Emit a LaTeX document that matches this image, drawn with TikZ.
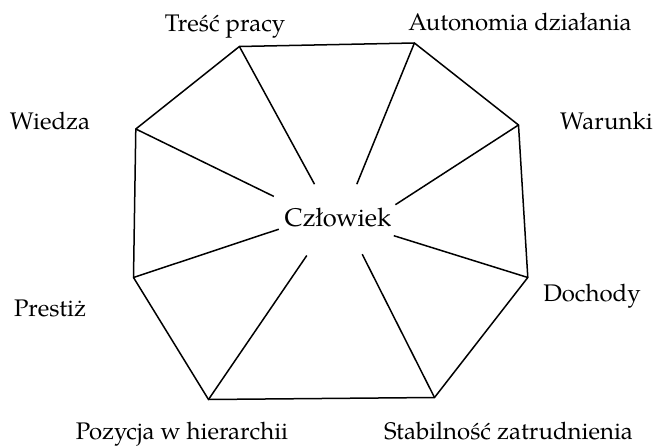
\documentclass[tikz,border=0pt]{standalone}
\usepackage{fontspec}
\setmainfont{TeX Gyre Pagella}
\begin{document}
\begin{tikzpicture}[x=1pt,y=1pt,
  edge/.style={line width=1.5pt, line join=miter},
  lbl/.style={anchor=base, inner sep=0pt, font=\fontsize{24}{28}\selectfont},
  ctr/.style={anchor=base, inner sep=0pt, font=\fontsize{25.5}{30}\selectfont}]
\useasboundingbox (0,0) rectangle (655,-446);
% vertices
\coordinate (TL) at (239.4,-46.5);
\coordinate (TR) at (414.4,-43);
\coordinate (RU) at (518.5,-125);
\coordinate (RL) at (527.8,-277.5);
\coordinate (BR) at (434.5,-397.5);
\coordinate (BL) at (208.5,-399.5);
\coordinate (LL) at (133.5,-277.5);
\coordinate (LU) at (135.8,-129);
% spoke inner ends
\coordinate (sTL) at (314.5,-184.2);
\coordinate (sTR) at (356.8,-184.2);
\coordinate (sRU) at (395.4,-204.7);
\coordinate (sRL) at (393.8,-235.7);
\coordinate (sBR) at (362.2,-254.2);
\coordinate (sBL) at (306.8,-255.5);
\coordinate (sLL) at (278.8,-229.2);
\coordinate (sLU) at (273.8,-196.4);
% octagon
\draw[edge] (TL) -- (TR) -- (RU) -- (RL) -- (BR) -- (BL) -- (LL) -- (LU) -- cycle;
% spokes
\draw[edge] (TL) -- (sTL);
\draw[edge] (TR) -- (sTR);
\draw[edge] (RU) -- (sRU);
\draw[edge] (RL) -- (sRL);
\draw[edge] (BR) -- (sBR);
\draw[edge] (BL) -- (sBL);
\draw[edge] (LL) -- (sLL);
\draw[edge] (LU) -- (sLU);
% labels
\node[ctr] (czl) at (338,-226.7) {Człowiek};
\node[lbl] (tresc) at (225,-32) {Treść pracy};
\node[lbl] (auto) at (520,-31) {Autonomia działania};
\node[lbl] (wiedza) at (50,-130) {Wiedza};
\node[lbl] (warunki) at (606.5,-130) {Warunki};
\node[lbl] (dochody) at (592,-301.7) {Dochody};
\node[lbl] (prestiz) at (50,-316.7) {Prestiż};
\node[lbl] (pozycja) at (182,-439) {Pozycja w hierarchii};
\node[lbl] (stab) at (508.5,-439) {Stabilność zatrudnienia};
\end{tikzpicture}
\end{document}
